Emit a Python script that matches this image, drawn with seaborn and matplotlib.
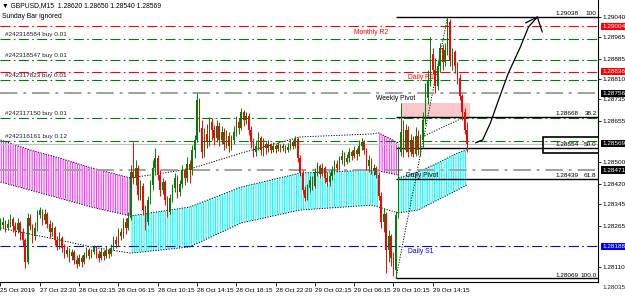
import numpy as np
import pandas as pd
import matplotlib
matplotlib.use("Agg")
import matplotlib.pyplot as plt
import matplotlib.transforms as mtrans
from matplotlib.patches import Rectangle
import seaborn as sns

sns.set_theme(style="white")
plt.rcParams['font.family'] = ['Liberation Sans', 'DejaVu Sans']
plt.rcParams['hatch.linewidth'] = 0.8

# ---------------- data ----------------
first_open = 1.28260
closes = [
    1.28267, 1.28278, 1.28256, 1.28271, 1.28290, 1.28264, 1.28249, 1.28275, 1.28241, 1.28212,
    1.28130, 1.28293, 1.28264, 1.28226, 1.28256, 1.28304, 1.28323, 1.28286, 1.28308, 1.28271,
    1.28241, 1.28256, 1.28212, 1.28189, 1.28219, 1.28182, 1.28160, 1.28175, 1.28152, 1.28167,
    1.28137, 1.28123, 1.28145, 1.28130, 1.28156, 1.28175, 1.28152, 1.28167, 1.28182, 1.28160,
    1.28145, 1.28167, 1.28152, 1.28175, 1.28160, 1.28182, 1.28212, 1.28197, 1.28241, 1.28226,
    1.28278, 1.28256, 1.28293, 1.28464, 1.28442, 1.28479, 1.28379, 1.28412, 1.28323, 1.28278,
    1.28360, 1.28416, 1.28479, 1.28516, 1.28453, 1.28397, 1.28427, 1.28360, 1.28316, 1.28367,
    1.28405, 1.28442, 1.28390, 1.28419, 1.28471, 1.28442, 1.28494, 1.28471, 1.28546, 1.28583,
    1.28731, 1.28627, 1.28538, 1.28605, 1.28575, 1.28649, 1.28620, 1.28590, 1.28634, 1.28583,
    1.28612, 1.28568, 1.28597, 1.28560, 1.28583, 1.28612, 1.28649, 1.28627, 1.28686, 1.28657,
    1.28672, 1.28620, 1.28575, 1.28538, 1.28560, 1.28590, 1.28546, 1.28568, 1.28553, 1.28568,
    1.28546, 1.28560, 1.28549, 1.28564, 1.28553, 1.28560, 1.28546, 1.28557, 1.28575, 1.28560,
    1.28586, 1.28516, 1.28460, 1.28397, 1.28367, 1.28405, 1.28434, 1.28412, 1.28464, 1.28486,
    1.28456, 1.28479, 1.28442, 1.28427, 1.28449, 1.28471, 1.28494, 1.28479, 1.28508, 1.28523,
    1.28501, 1.28516, 1.28538, 1.28523, 1.28546, 1.28531, 1.28560, 1.28575, 1.28546, 1.28486,
    1.28508, 1.28471, 1.28479, 1.28453, 1.28375, 1.28278, 1.28308, 1.28175, 1.28226, 1.28145,
    1.28100, 1.28304, 1.28538, 1.28612, 1.28546, 1.28620, 1.28538, 1.28583, 1.28531, 1.28597,
    1.28546, 1.28583, 1.28657, 1.28738, 1.28805, 1.28902, 1.28842, 1.28783, 1.28857, 1.28924,
    1.28872, 1.28917, 1.29020, 1.28879, 1.28909, 1.28857, 1.28813, 1.28746, 1.28686, 1.28620,
    1.28569]
highs = [
    1.28293, 1.28297, 1.28286, 1.28290, 1.28308, 1.28297, 1.28278, 1.28293, 1.28282, 1.28256,
    1.28219, 1.28312, 1.28308, 1.28271, 1.28278, 1.28323, 1.28334, 1.28327, 1.28327, 1.28316,
    1.28286, 1.28278, 1.28264, 1.28226, 1.28241, 1.28226, 1.28197, 1.28189, 1.28182, 1.28178,
    1.28175, 1.28156, 1.28160, 1.28156, 1.28167, 1.28186, 1.28182, 1.28178, 1.28193, 1.28189,
    1.28175, 1.28182, 1.28175, 1.28189, 1.28182, 1.28197, 1.28226, 1.28226, 1.28256, 1.28256,
    1.28293, 1.28293, 1.28316, 1.28490, 1.28575, 1.28508, 1.28490, 1.28434, 1.28423, 1.28341,
    1.28375, 1.28434, 1.28508, 1.28553, 1.28527, 1.28471, 1.28442, 1.28434, 1.28375, 1.28382,
    1.28419, 1.28460, 1.28453, 1.28434, 1.28490, 1.28479, 1.28520, 1.28508, 1.28564, 1.28601,
    1.28757, 1.28738, 1.28657, 1.28627, 1.28642, 1.28668, 1.28664, 1.28638, 1.28657, 1.28649,
    1.28634, 1.28627, 1.28620, 1.28612, 1.28601, 1.28634, 1.28672, 1.28664, 1.28701, 1.28694,
    1.28686, 1.28683, 1.28634, 1.28590, 1.28583, 1.28612, 1.28597, 1.28590, 1.28575, 1.28583,
    1.28572, 1.28575, 1.28568, 1.28575, 1.28568, 1.28572, 1.28564, 1.28572, 1.28586, 1.28583,
    1.28597, 1.28594, 1.28527, 1.28471, 1.28412, 1.28419, 1.28449, 1.28449, 1.28479, 1.28501,
    1.28494, 1.28497, 1.28486, 1.28464, 1.28464, 1.28486, 1.28508, 1.28508, 1.28523, 1.28546,
    1.28538, 1.28531, 1.28553, 1.28546, 1.28560, 1.28553, 1.28583, 1.28590, 1.28583, 1.28553,
    1.28527, 1.28516, 1.28494, 1.28486, 1.28464, 1.28390, 1.28330, 1.28316, 1.28249, 1.28234,
    1.28167, 1.28319, 1.28560, 1.28720, 1.28657, 1.28642, 1.28634, 1.28605, 1.28597, 1.28631,
    1.28620, 1.28605, 1.28686, 1.28794, 1.28842, 1.28965, 1.28924, 1.28887, 1.28879, 1.28943,
    1.28939, 1.28943, 1.29038, 1.29030, 1.28924, 1.28917, 1.28872, 1.28828, 1.28753, 1.28701,
    1.28650]
lows = [
    1.28249, 1.28256, 1.28241, 1.28249, 1.28260, 1.28241, 1.28226, 1.28238, 1.28212, 1.28189,
    1.28108, 1.28123, 1.28249, 1.28200, 1.28212, 1.28245, 1.28293, 1.28267, 1.28271, 1.28256,
    1.28219, 1.28226, 1.28193, 1.28175, 1.28178, 1.28167, 1.28145, 1.28149, 1.28130, 1.28137,
    1.28123, 1.28108, 1.28115, 1.28111, 1.28123, 1.28145, 1.28141, 1.28145, 1.28160, 1.28145,
    1.28130, 1.28137, 1.28137, 1.28145, 1.28145, 1.28152, 1.28175, 1.28182, 1.28189, 1.28212,
    1.28219, 1.28234, 1.28249, 1.28286, 1.28419, 1.28416, 1.28360, 1.28360, 1.28304, 1.28249,
    1.28267, 1.28345, 1.28397, 1.28453, 1.28434, 1.28375, 1.28382, 1.28341, 1.28297, 1.28308,
    1.28353, 1.28390, 1.28367, 1.28375, 1.28405, 1.28416, 1.28427, 1.28423, 1.28453, 1.28516,
    1.28575, 1.28612, 1.28516, 1.28520, 1.28553, 1.28560, 1.28583, 1.28564, 1.28575, 1.28560,
    1.28568, 1.28546, 1.28553, 1.28538, 1.28546, 1.28568, 1.28597, 1.28605, 1.28620, 1.28634,
    1.28642, 1.28601, 1.28553, 1.28520, 1.28523, 1.28546, 1.28527, 1.28523, 1.28531, 1.28538,
    1.28534, 1.28538, 1.28534, 1.28542, 1.28538, 1.28542, 1.28534, 1.28538, 1.28546, 1.28549,
    1.28553, 1.28501, 1.28449, 1.28382, 1.28356, 1.28360, 1.28390, 1.28397, 1.28405, 1.28449,
    1.28442, 1.28449, 1.28423, 1.28412, 1.28412, 1.28434, 1.28456, 1.28464, 1.28471, 1.28494,
    1.28486, 1.28494, 1.28501, 1.28508, 1.28516, 1.28508, 1.28523, 1.28546, 1.28531, 1.28471,
    1.28464, 1.28456, 1.28453, 1.28442, 1.28360, 1.28256, 1.28241, 1.28089, 1.28130, 1.28115,
    1.28078, 1.28069, 1.28293, 1.28523, 1.28520, 1.28538, 1.28520, 1.28523, 1.28520, 1.28523,
    1.28527, 1.28523, 1.28553, 1.28642, 1.28716, 1.28783, 1.28828, 1.28757, 1.28768, 1.28835,
    1.28842, 1.28857, 1.28898, 1.28857, 1.28842, 1.28831, 1.28790, 1.28731, 1.28657, 1.28605,
    1.28540]

time_ticks = [0, 16, 32, 48, 64, 80, 96, 112, 128, 144, 160, 176]
time_labels = ["25 Oct 2019", "27 Oct 22:20", "28 Oct 02:15", "28 Oct 06:15", "28 Oct 10:15",
               "28 Oct 14:15", "28 Oct 18:15", "28 Oct 22:20", "29 Oct 02:15", "29 Oct 06:15",
               "29 Oct 10:15", "29 Oct 14:15"]
price_ticks = [1.29040, 1.28965, 1.28885, 1.28810, 1.28735, 1.28655, 1.28500, 1.28420,
               1.28345, 1.28265, 1.28110]
bottom_tick = 1.28035

# Ichimoku-like cloud knots
knot_bars = [0, 12, 24, 37, 53, 77, 98, 122, 151, 154, 162]
span_a = [1.28583, 1.28546, 1.28516, 1.28479, 1.28442, 1.28475, 1.28534, 1.28594, 1.28605, 1.28609, 1.28572]
span_b = [1.28427, 1.28397, 1.28367, 1.28334, 1.28301, 1.28334, 1.28408, 1.28460, 1.28471, 1.28468, 1.28453]
span_c = [1.28256, 1.28234, 1.28212, 1.28186, 1.28163, 1.28186, 1.28275, 1.28323, 1.28341, 1.28334, 1.28312]
right_bars = [162, 170, 178, 186, 190]
right_top = [1.28442, 1.28464, 1.28497, 1.28534, 1.28546]
right_bottom = [1.28312, 1.28323, 1.28360, 1.28397, 1.28416]

# pivots
pivot_prices = [1.29004, 1.28836, 1.28756, 1.28471, 1.28188]
pivot_names = ["Monthly R2", "Daily R1", "Weekly Pivot", "Daily Pivot", "Daily S1"]
pivot_label_bars = [144, 166, 153, 165, 166]
pivot_colors = ["#FF0000", "#FF0000", "#A0A0A0", "#A0A0A0", "#0000FF"]
pivot_text_colors = ["#FF0000", "#FF0000", "#000000", "#000000", "#0000FF"]
pivot_lw = [0.8, 0.8, 1.4, 1.4, 0.8]

# orders
order_prices = [1.28956, 1.28880, 1.28805, 1.28663, 1.28579]
order_labels = ["#242318584 buy 0.01", "#242318547 buy 0.01", "#242317823 buy 0.01",
                "#242317150 buy 0.01", "#242316161 buy 0.12"]

# fibonacci
fib_prices = [1.29038, 1.28668, 1.28554, 1.28439, 1.28069]
fib_levels = ["100", "38.2", "50.0", "61.8", "100.0"]
fib_start_bar = 161
fib_anchor_bars = [161, 182]
fib_anchor_prices = [1.28069, 1.29038]

bid_price = 1.28569
axis_boxes = [(1.29004, "#FF0000"), (1.28836, "#FF0000"), (1.28756, "#000000"),
              (1.28569, "#000000"), (1.28471, "#000000"), (1.28188, "#0000FF")]

zone_bars = [163, 191]
zone_prices = [1.28668, 1.28720]
box_bars = [221, 250]
box_prices = [1.28534, 1.28594]
arrow_bars = [193.4, 196.3, 199.5, 202.8, 206.8, 211.7, 215.0, 218.6]
arrow_prices = [1.28572, 1.28583, 1.28646, 1.28731, 1.28831, 1.28928, 1.29002, 1.29039]
arrow_head_bars = [213.8, 218.6, 220.6]
arrow_head_prices = [1.29017, 1.29039, 1.28983]
trend_bars = [162, 189]
trend_prices = [1.28553, 1.28668]

# ---------------- figure ----------------
fig = plt.figure(figsize=(6.25, 3.07), dpi=100)
fig.patch.set_facecolor("white")
ax = fig.add_axes([0, 25 / 307, 598 / 625, 282 / 307])
ax.set_facecolor("white")
X0, X1 = -0.2, 243.3
Y0, Y1 = 1.28056, 1.29102
ax.set_xlim(X0, X1)
ax.set_ylim(Y0, Y1)

n = len(closes)
bars = np.arange(n)
opens = np.array([first_open] + closes[:-1])
c = np.array(closes)
h = np.maximum(np.array(highs), np.maximum(opens, c))
l = np.minimum(np.array(lows), np.minimum(opens, c))
df = pd.DataFrame({"bar": bars, "open": opens, "high": h, "low": l, "close": c})

# cloud (hatched vertical stripes)
kb = np.array(knot_bars)
sa, sb, sc = np.array(span_a), np.array(span_b), np.array(span_c)
mag = "#FF33FF"
cya = "#00FFFF"
ax.fill_between(kb[0:5], sa[0:5], sb[0:5], facecolor="none", edgecolor=mag, hatch="|||||||", linewidth=0, zorder=1)
ax.fill_between(kb[4:10], sb[4:10], sc[4:10], facecolor="none", edgecolor=cya, hatch="|||||||", linewidth=0, zorder=1)
ax.fill_between(kb[9:11], sa[9:11], sb[9:11], facecolor="none", edgecolor=mag, hatch="|||||||", linewidth=0, zorder=1)
ax.fill_between(right_bars, right_top, right_bottom, facecolor="none", edgecolor=cya, hatch="|||||||", linewidth=0, zorder=1)

# pink zone
ax.fill_between(zone_bars, [zone_prices[0]] * 2, [zone_prices[1]] * 2, color="#FAC8C8", linewidth=0, zorder=1)

# dotted indicator lines
dot = (0, (1.2, 1.5))
for yy in (sa, sb, sc):
    sns.lineplot(x=kb, y=yy, ax=ax, color="black", linestyle=dot, linewidth=0.7, zorder=2)
sns.lineplot(x=right_bars, y=right_top, ax=ax, color="black", linestyle=dot, linewidth=0.7, zorder=2)
sns.lineplot(x=right_bars, y=right_bottom, ax=ax, color="black", linestyle=dot, linewidth=0.7, zorder=2)
sns.lineplot(x=fib_anchor_bars, y=fib_anchor_prices, ax=ax, color="black", linestyle=dot, linewidth=0.7, zorder=2)
sns.lineplot(x=trend_bars, y=trend_prices, ax=ax, color="black", linestyle=dot, linewidth=0.7, zorder=2)

# horizontal lines
dashdot = (0, (9, 3, 1.5, 3))
ax.axhline(bid_price, color="#C0C0C0", lw=0.8, zorder=2)
for p, col, lw in zip(pivot_prices, pivot_colors, pivot_lw):
    ax.axhline(p, color=col, lw=lw, linestyle=dashdot, zorder=2)
for p in order_prices:
    ax.axhline(p, color="#008000", lw=0.8, linestyle=dashdot, zorder=2)
for p in fib_prices:
    ax.hlines(p, fib_start_bar, X1, color="black", lw=1.0, zorder=3)

# candles
up = df["close"] >= df["open"]
colors = np.where(up, "#008000", "#FF0000")
ax.vlines(df["bar"], df["low"], df["high"], colors=colors, lw=0.7, zorder=4)
body = (df["close"] - df["open"]).abs().clip(lower=0.000025)
ax.bar(df["bar"], body, bottom=np.minimum(df["open"], df["close"]), width=0.6,
       color=colors, linewidth=0, zorder=5)

# rectangle and arrow
ax.add_patch(Rectangle((box_bars[0], box_prices[0]), box_bars[1] - box_bars[0],
                       box_prices[1] - box_prices[0], fill=False, ec="black", lw=1.2, zorder=6))
ax.plot(arrow_bars, arrow_prices, color="black", lw=0.9, zorder=6)
ax.plot(arrow_head_bars, arrow_head_prices, color="black", lw=0.9, zorder=6)

# texts
fs = 4.6
for p, lab in zip(order_prices, order_labels):
    ax.annotate(lab, (2, p), xytext=(0, 1.5), textcoords="offset points", fontsize=fs,
                color="#202020", va="bottom", ha="left")
for p, name, b, tc in zip(pivot_prices, pivot_names, pivot_label_bars, pivot_text_colors):
    ax.annotate(name, (b, p), xytext=(0, -1.5), textcoords="offset points", fontsize=fs + 0.3,
                color=tc, va="top", ha="left", zorder=7)
for p, lv in zip(fib_prices, fib_levels):
    ax.annotate(f"{p:.5f}", (235.3, p), xytext=(0, 0.6), textcoords="offset points", fontsize=fs,
                color="black", va="bottom", ha="right", zorder=7)
    ax.annotate(lv, (X1, p), xytext=(-1, 0.6), textcoords="offset points", fontsize=fs,
                color="black", va="bottom", ha="right", zorder=7)

ax.text(2 / 598, 1 - 6 / 282, "\u25BC GBPUSD,M15  1.28620 1.28650 1.28540 1.28569", transform=ax.transAxes,
        fontsize=4.9, va="center", ha="left", color="black")
ax.text(2 / 598, 1 - 16 / 282, "Sunday Bar ignored", transform=ax.transAxes,
        fontsize=4.9, va="center", ha="left", color="black")

# axes styling
for s in ("left", "top"):
    ax.spines[s].set_visible(False)
for s in ("right", "bottom"):
    ax.spines[s].set_visible(True)
    ax.spines[s].set_color("black")
    ax.spines[s].set_linewidth(0.8)
ax.yaxis.tick_right()
ax.set_yticks(price_ticks)
ax.set_yticklabels([f"{p:.5f}" for p in price_ticks])
ax.set_xticks(time_ticks)
ax.set_xticklabels(time_labels)
for t in ax.get_xticklabels():
    t.set_ha("left")
ax.tick_params(axis="y", right=True, left=False, length=2, width=0.6, pad=1.5, labelsize=fs, colors="black")
ax.tick_params(axis="x", bottom=True, length=3, width=0.6, pad=1.5, labelsize=fs, colors="black")
ax.set_xlabel("")
ax.set_ylabel("")

btrans = mtrans.blended_transform_factory(ax.transAxes, ax.transData)
ax.text(1 + 4 / 598, bottom_tick, f"{bottom_tick:.5f}", transform=btrans, fontsize=fs,
        va="center", ha="left", clip_on=False)
for p, col in axis_boxes:
    ax.text(1 + 4 / 598, p, f"{p:.5f}", transform=btrans, fontsize=fs, color="white",
            va="center", ha="left", clip_on=False, zorder=10,
            bbox=dict(boxstyle="square,pad=0.2", fc=col, ec="none"))

fig.savefig("out.png", dpi=100)
